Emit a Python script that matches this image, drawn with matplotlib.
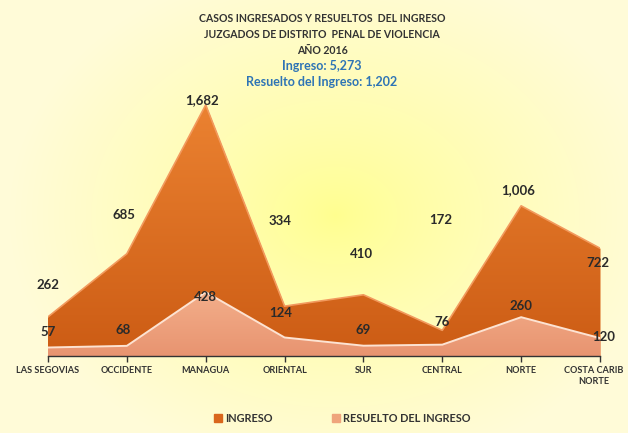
import numpy as np
import matplotlib.pyplot as plt
import matplotlib.transforms as mtransforms
from matplotlib.patches import Patch

# data
regiones = ['LAS SEGOVIAS', 'OCCIDENTE', 'MANAGUA', 'ORIENTAL', 'SUR',
            'CENTRAL', 'NORTE', 'COSTA CARIB\nNORTE']
ingreso = [262, 685, 1682, 334, 410, 172, 1006, 722]
resuelto = [57, 68, 428, 124, 69, 76, 260, 120]
titulos = ['CASOS INGRESADOS Y RESUELTOS  DEL INGRESO',
           'JUZGADOS DE DISTRITO  PENAL DE VIOLENCIA',
           'AÑO 2016']

# label offsets in pixels (dx, dy) relative to the point
off_ing = [(0, 32), (-3, 39), (-4, 5), (-4, 85), (-2, 41), (-2, 110), (-3, 16), (-2, -15)]
off_res = [(0, 15), (-4, 16), (0, -5), (-4, 24), (0, 16), (0, 23), (0, 11), (4, 1)]

plt.rcParams['font.family'] = ['Lato', 'DejaVu Sans']

fig = plt.figure(figsize=(6.28, 4.33), dpi=100)

# radial yellow background
bg = fig.add_axes([0, 0, 1, 1])
yy, xx = np.mgrid[0:433, 0:628]
r = np.sqrt(((xx - 335) / 330.0) ** 2 + ((yy - 215) / 260.0) ** 2)
r = np.clip(r, 0, 1) ** 0.8
c0 = np.array([1.0, 1.0, 0.56])
c1 = np.array([1.0, 0.985, 0.85])
img = c0[None, None, :] * (1 - r[..., None]) + c1[None, None, :] * r[..., None]
bg.imshow(img, aspect='auto', extent=[0, 628, 433, 0])
bg.axis('off')

ax = fig.add_axes([48 / 628, 77 / 433, 552 / 628, 268.7 / 433])
ax.patch.set_alpha(0)
x = np.arange(len(regiones))
ax.set_xlim(0, len(regiones) - 1)
ax.set_ylim(0, 1800)

grad = np.linspace(0, 1, 256)[:, None]

# dark area with vertical gradient
poly = ax.fill_between(x, 0, ingreso, color='#d9661c', lw=0, zorder=2)
top = np.array([0.93, 0.52, 0.20])
bot = np.array([0.80, 0.36, 0.08])
gimg = top[None, None, :] * (1 - grad[..., None]) + bot[None, None, :] * grad[..., None]
gimg = np.repeat(gimg, 2, axis=1)
im = ax.imshow(gimg, aspect='auto', extent=[0, 7, 0, 1800], zorder=2.1)
im.set_clip_path(poly.get_paths()[0], transform=ax.transData)
ax.plot(x, ingreso, color='#f29a5e', lw=1.2, zorder=2.2)

# light area
poly2 = ax.fill_between(x, 0, resuelto, color='#efa47c', lw=0, zorder=3)
top2 = np.array([0.96, 0.70, 0.56])
bot2 = np.array([0.91, 0.58, 0.44])
gimg2 = top2[None, None, :] * (1 - grad[..., None]) + bot2[None, None, :] * grad[..., None]
gimg2 = np.repeat(gimg2, 2, axis=1)
im2 = ax.imshow(gimg2, aspect='auto', extent=[0, 7, 0, 500], zorder=3.1)
im2.set_clip_path(poly2.get_paths()[0], transform=ax.transData)
ax.plot(x, resuelto, color='#fde3d2', lw=1.4, zorder=3.2)

# data labels
for i in range(len(x)):
    ax.annotate(f'{ingreso[i]:,}', (x[i], ingreso[i]), xytext=off_ing[i],
                textcoords='offset pixels', ha='center', va='center',
                fontsize=9.5, fontweight='bold', color='#2a2a2a', zorder=5)
    ax.annotate(f'{resuelto[i]:,}', (x[i], resuelto[i]), xytext=off_res[i],
                textcoords='offset pixels', ha='center', va='center',
                fontsize=9.5, fontweight='bold', color='#2a2a2a', zorder=5)

for s in ['top', 'left', 'right']:
    ax.spines[s].set_visible(False)
ax.spines['bottom'].set_color('#333333')
ax.spines['bottom'].set_linewidth(1.0)
ax.spines['bottom'].set_zorder(6)
ax.set_yticks([])
ax.set_xticks(x)
ax.set_xticklabels(regiones, fontsize=6.6, fontweight='bold', color='#333333',
                   linespacing=1.3)
ax.tick_params(axis='x', length=4, width=1, color='#333333', pad=3)
# keep the last label inside the figure
last = ax.get_xticklabels()[-1]
last.set_transform(last.get_transform() +
                   mtransforms.ScaledTranslation(-6 / 100, 0, fig.dpi_scale_trans))

# titles
tx = 322 / 628
for yp, t in zip([19, 35, 50], titulos):
    fig.text(tx, 1 - yp / 433, t, ha='center', va='center',
             fontsize=7.6, fontweight='bold', color='#333333')
fig.text(tx, 1 - 66 / 433, 'Ingreso: 5,273', ha='center', va='center',
         fontsize=9, fontweight='bold', color='#2e74b5')
fig.text(tx, 1 - 82 / 433, 'Resuelto del Ingreso: 1,202', ha='center', va='center',
         fontsize=9, fontweight='bold', color='#2e74b5')

# legend
handles = [Patch(color='#d9661c', label='INGRESO'),
           Patch(color='#efa47c', label='RESUELTO DEL INGRESO')]
leg = fig.legend(handles=handles, loc='center', bbox_to_anchor=(0.545, 1 - 418 / 433),
                 ncol=2, frameon=False, handlelength=0.7, handleheight=0.7,
                 columnspacing=5.5, handletextpad=0.3,
                 prop={'weight': 'bold', 'size': 7.8})
for t in leg.get_texts():
    t.set_color('#333333')

fig.savefig('out.png', dpi=100)
